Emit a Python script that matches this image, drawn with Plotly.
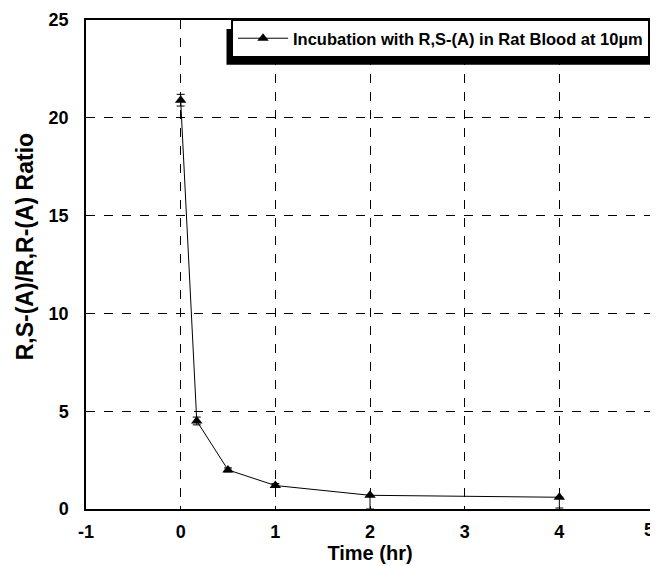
import plotly.graph_objects as go

time_hr = [0, 0.17, 0.5, 1, 2, 4]
ratio = [20.9, 4.5, 2.0, 1.2, 0.7, 0.6]
err_plus = [0.3, 0.2, 0.1, 0.1, 0.0, 0.0]
err_minus = [0.3, 0.2, 0.1, 0.1, 0.7, 0.55]
series_name = "Incubation with R,S-(A) in Rat Blood at 10µm"
x_ticks = [-1, 0, 1, 2, 3, 4, 5]
x_tick_labels = ["-1", "0", "1", "2", "3", "4", "5"]
y_ticks = [0, 5, 10, 15, 20, 25]
y_title = "R,S-(A)/R,R-(A) Ratio"
x_title = "Time (hr)"

FONT = "Arial, Liberation Sans, sans-serif"
OFF = 8  # default page body margin

fig = go.Figure()
fig.add_trace(go.Scatter(
    x=time_hr, y=ratio, name=series_name, mode="lines+markers",
    line=dict(color="black", width=1),
    marker=dict(symbol="triangle-up", size=10, color="black"),
    error_y=dict(type="data", symmetric=False, array=err_plus, arrayminus=err_minus,
                 color="black", thickness=1, width=4),
    showlegend=True,
))

W, H = 658 - OFF, 566 - OFF
L, R, T, B = 86 - OFF, 658 - 656, 18 - OFF, 566 - 509
pw = W - L - R
ph = H - T - B

def px_x(p):
    return (p - OFF - L) / pw

def px_y(p):
    return (H - B - (p - OFF)) / ph

axis_common = dict(
    showline=True, linecolor="black", linewidth=1.5, mirror=True,
    showgrid=True, gridcolor="black", griddash="dash", gridwidth=1,
    zeroline=False, ticks="",
    tickfont=dict(family=FONT, size=18, color="black", weight="bold"),
)

tick_font = dict(family=FONT, size=18, color="black", weight="bold")

# last x tick label drawn right-aligned so it stays inside the page
shown_labels = x_tick_labels[:-1] + [""]

fig.update_layout(
    width=W, height=H,
    margin=dict(l=L, r=R, t=T, b=B),
    paper_bgcolor="white", plot_bgcolor="white",
    xaxis=dict(range=[-1, 5], tickvals=x_ticks, ticktext=shown_labels,
               ticklabelstandoff=6, ticklabeloverflow="allow",
               title=dict(text=x_title, font=dict(family=FONT, size=20, color="black", weight="bold"), standoff=4),
               **axis_common),
    yaxis=dict(range=[0, 25], tickvals=y_ticks, ticklabelstandoff=12,
               **axis_common),
    legend=dict(x=px_x(652), xanchor="right", y=px_y(17), yanchor="top",
                bgcolor="white", bordercolor="black", borderwidth=2,
                font=dict(family=FONT, size=16.5, color="black", weight="bold"),
                itemwidth=50),
    shapes=[dict(type="rect", xref="paper", yref="paper",
                 x0=px_x(227), x1=px_x(656), y0=px_y(63), y1=px_y(27),
                 fillcolor="black", line=dict(width=0), layer="above")],
    annotations=[
        dict(text=x_tick_labels[-1], x=x_ticks[-1], xref="x", xanchor="right", xshift=2,
             y=px_y(518), yref="paper", yanchor="top", showarrow=False, font=tick_font),
        dict(text=y_title, textangle=-90, x=px_x(25), xref="paper", xanchor="center",
             y=px_y(246), yref="paper", yanchor="middle", showarrow=False,
             font=dict(family=FONT, size=23, color="black", weight="bold")),
    ],
)

fig.write_html("out.html")
